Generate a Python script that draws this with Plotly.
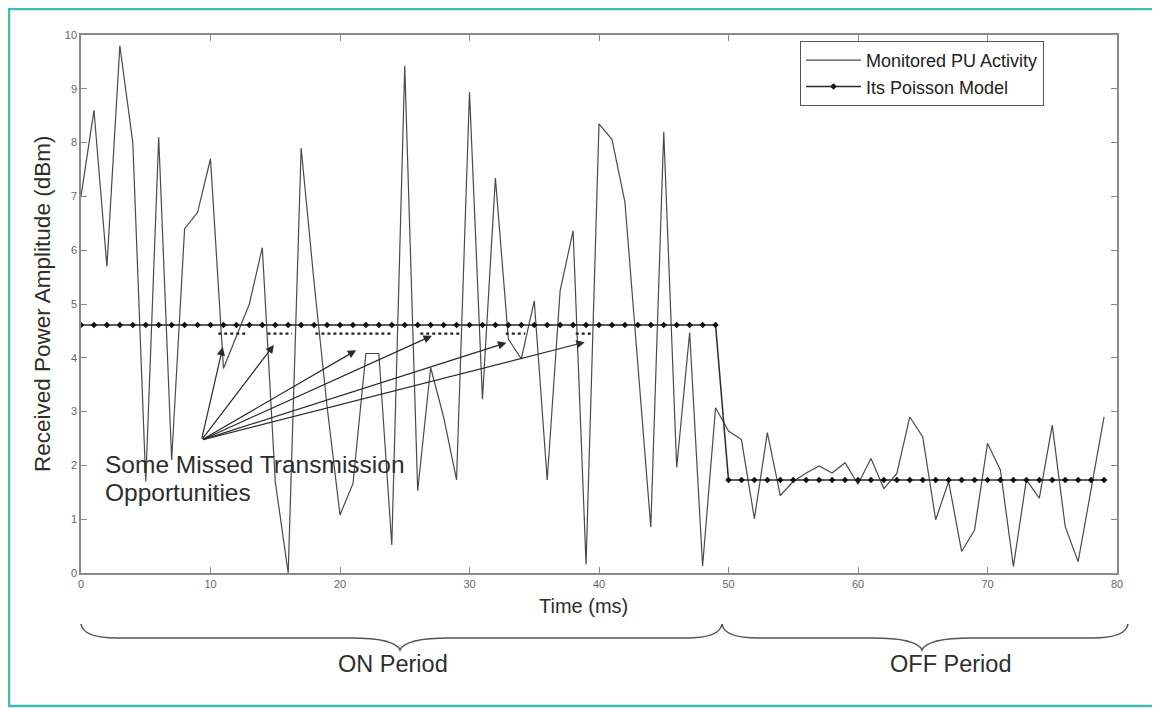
import plotly.graph_objects as go

# ---------------- data ----------------
time_ms = list(range(0, 80))
monitored_pu = [
    7.0, 8.6, 5.7, 9.8, 8.0, 1.7, 8.1, 2.1, 6.4, 6.7,
    7.7, 3.8, 4.4, 5.0, 6.05, 1.7, 0.0, 7.9, 5.4, 3.1,
    1.08, 1.66, 4.08, 4.08, 0.52, 9.43, 1.53, 3.82, 2.9, 1.73,
    8.94, 3.23, 7.34, 4.35, 3.98, 5.06, 1.73, 5.25, 6.36, 0.16,
    8.35, 8.06, 6.9, 3.9, 0.85, 8.2, 1.96, 4.47, 0.13, 3.07,
    2.64, 2.48, 1.01, 2.61, 1.44, 1.70, 1.86, 1.99, 1.86, 2.05,
    1.65, 2.13, 1.57, 1.85, 2.9, 2.53, 0.99, 1.7, 0.4, 0.8,
    2.41, 1.91, 0.12, 1.73, 1.39, 2.75, 0.86, 0.21, 1.54, 2.9,
]
on_level = 4.61
off_level = 1.73
on_end = 49  # last ms of ON period
poisson_model = [on_level if t <= on_end else off_level for t in time_ms]

# missed transmission opportunities (dotted segments just under ON level)
missed_level = 4.45
missed_start = [10.6, 14.4, 18.1, 26.2, 32.8, 38.2]
missed_end = [12.7, 16.3, 24.0, 29.3, 34.3, 39.4]

# arrows from the annotation to the missed opportunities
arrow_origin = (9.3, 2.47)
arrow_head_t = [10.95, 14.9, 21.25, 27.1, 32.85, 38.9]
arrow_head_v = [4.2, 4.24, 4.14, 4.41, 4.28, 4.29]

x_ticks = [0, 10, 20, 30, 40, 50, 60, 70, 80]
y_ticks = list(range(0, 11))

# ---------------- layout geometry (page pixels) ----------------
OFF = 8                      # body margin of the html page
W, H = 1160 - OFF, 709 - OFF
L, R, T, B = 81, 1117, 35, 573   # plot area in page pixels


def px(xp):
    return (xp - L) / (R - L)


def py(yp):
    return (B - yp) / (B - T)


FONT = "Liberation Sans, Arial, sans-serif"
INK = "#2e2e2e"

fig = go.Figure()

fig.add_trace(go.Scatter(
    x=time_ms, y=monitored_pu, mode="lines",
    name="Monitored PU Activity",
    line=dict(color="#4a4a4a", width=1.2),
))
fig.add_trace(go.Scatter(
    x=time_ms, y=poisson_model, mode="lines+markers",
    name="Its Poisson Model",
    line=dict(color="#2a2a2a", width=1.5),
    marker=dict(symbol="diamond", size=5, color="#111111"),
))
for s, e in zip(missed_start, missed_end):
    fig.add_trace(go.Scatter(
        x=[s, e], y=[missed_level, missed_level], mode="lines",
        line=dict(color="#222222", width=2.2, dash="dot"),
        showlegend=False, hoverinfo="skip",
    ))

annotations = []
for ht, hv in zip(arrow_head_t, arrow_head_v):
    annotations.append(dict(
        x=ht, y=hv, xref="x", yref="y",
        ax=arrow_origin[0], ay=arrow_origin[1], axref="x", ayref="y",
        text="", showarrow=True, arrowhead=2, arrowsize=1.4,
        arrowwidth=1.2, arrowcolor="#2a2a2a",
    ))


def label(text, xp, yp, size, xanchor="center", angle=0):
    return dict(
        x=px(xp), y=py(yp), xref="paper", yref="paper",
        xanchor=xanchor, yanchor="middle", textangle=angle,
        text=text, showarrow=False,
        font=dict(family=FONT, size=size, color=INK),
    )


annotations += [
    label("Some Missed Transmission", 103, 464, 24.5, xanchor="left"),
    label("Opportunities", 103, 492, 24.5, xanchor="left"),
    label("Received Power Amplitude (dBm)", 42, 304, 22.5, angle=-90),
    label("Time (ms)", 583, 606, 20),
    label("ON Period", 393, 664, 23.5),
    label("OFF Period", 950, 664, 23.5),
]


def P(xp, yp):
    return f"{px(xp):.5f},{py(yp):.5f}"


def brace(x0, x1, xc, ytop=624, ymid=638, ytip=650):
    c = 36
    return (f"M {P(x0, ytop)} Q {P(x0 + 2, ymid)} {P(x0 + c, ymid)} "
            f"L {P(xc - 50, ymid)} Q {P(xc - 5, ymid)} {P(xc, ytip)} "
            f"Q {P(xc + 5, ymid)} {P(xc + 50, ymid)} "
            f"L {P(x1 - c, ymid)} Q {P(x1 - 2, ymid)} {P(x1, ytop)}")


shapes = [
    dict(type="path", xref="paper", yref="paper", path=brace(81, 722, 400),
         line=dict(color="#555555", width=1.6)),
    dict(type="path", xref="paper", yref="paper", path=brace(722, 1128, 922),
         line=dict(color="#555555", width=1.6)),
    dict(type="rect", xref="paper", yref="paper",
         x0=px(9), x1=px(1158), y0=py(706), y1=py(9),
         line=dict(color="#3dbdb5", width=2.5), layer="below"),
]

axis_common = dict(
    showgrid=False, zeroline=False, showline=True, mirror="ticks",
    linecolor="#8a8a8a", linewidth=1.5, ticks="inside", ticklen=6,
    tickcolor="#8a8a8a", tickfont=dict(family=FONT, size=11, color="#666666"),
)

fig.update_layout(
    width=W, height=H,
    margin=dict(l=L - OFF, r=W - (R - OFF), t=T - OFF, b=H - (B - OFF)),
    paper_bgcolor="white", plot_bgcolor="white",
    xaxis=dict(range=[0, 80], tickvals=x_ticks, **axis_common),
    yaxis=dict(range=[0, 10], tickvals=y_ticks, **axis_common),
    showlegend=True,
    legend=dict(
        x=px(800), y=py(41), xanchor="left", yanchor="top",
        bgcolor="white", bordercolor="#555555", borderwidth=1,
        font=dict(family=FONT, size=18, color="#222222"),
        itemwidth=55, tracegroupgap=0,
    ),
    annotations=annotations,
    shapes=shapes,
)

fig.write_html("out.html")
